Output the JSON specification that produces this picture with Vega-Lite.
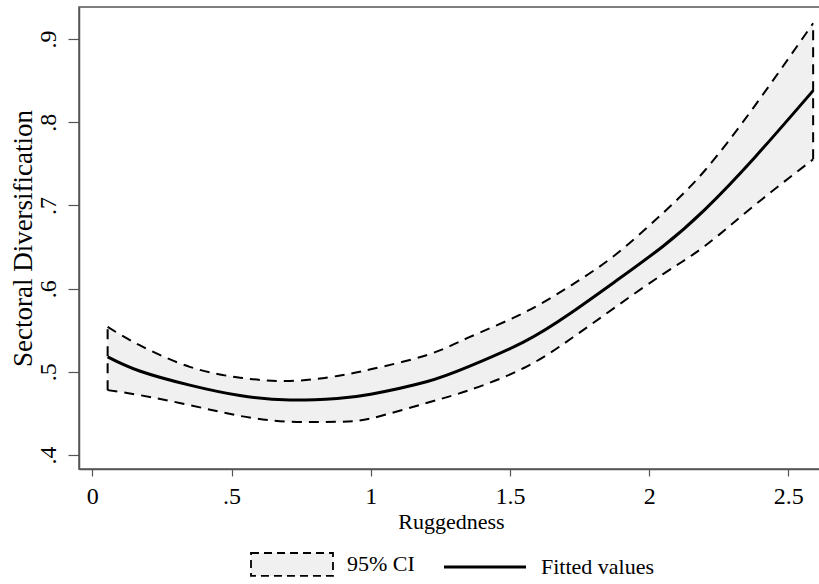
{
  "$schema": "https://vega.github.io/schema/vega-lite/v6.json",
  "width": 745,
  "height": 462,
  "autosize": {"type": "none"},
  "padding": {"left": 79, "top": 7, "right": 0, "bottom": 115},
  "background": "white",
  "config": {
    "font": "Liberation Serif",
    "view": {"stroke": "#555555", "strokeWidth": 1.5},
    "axis": {
      "labelFont": "Liberation Serif",
      "titleFont": "Liberation Serif",
      "labelColor": "black",
      "titleColor": "black",
      "titleFontWeight": "normal",
      "domainColor": "#555555",
      "domainWidth": 1.5,
      "tickColor": "#555555",
      "tickWidth": 1.2,
      "grid": false
    },
    "legend": {
      "labelFont": "Liberation Serif",
      "labelColor": "black"
    }
  },
  "data": {
    "values": [
      {"x": 0.055, "fit": 0.518, "lo": 0.478, "hi": 0.554},
      {"x": 0.17, "fit": 0.501, "lo": 0.472, "hi": 0.532},
      {"x": 0.35, "fit": 0.484, "lo": 0.460, "hi": 0.506},
      {"x": 0.53, "fit": 0.4715, "lo": 0.447, "hi": 0.493},
      {"x": 0.71, "fit": 0.4662, "lo": 0.440, "hi": 0.489},
      {"x": 0.88, "fit": 0.468, "lo": 0.440, "hi": 0.495},
      {"x": 1.0, "fit": 0.473, "lo": 0.444, "hi": 0.503},
      {"x": 1.2, "fit": 0.488, "lo": 0.4625, "hi": 0.520},
      {"x": 1.35, "fit": 0.506, "lo": 0.4775, "hi": 0.541},
      {"x": 1.55, "fit": 0.536, "lo": 0.5046, "hi": 0.571},
      {"x": 1.72, "fit": 0.571, "lo": 0.540, "hi": 0.604},
      {"x": 1.88, "fit": 0.609, "lo": 0.578, "hi": 0.641},
      {"x": 2.05, "fit": 0.651, "lo": 0.6175, "hi": 0.691},
      {"x": 2.2, "fit": 0.695, "lo": 0.6512, "hi": 0.742},
      {"x": 2.38, "fit": 0.758, "lo": 0.7005, "hi": 0.820},
      {"x": 2.589, "fit": 0.838, "lo": 0.7554, "hi": 0.919}
    ]
  },
  "encoding": {
    "x": {
      "field": "x", "type": "quantitative",
      "scale": {"domain": [-0.0478, 2.628], "nice": false, "zero": false},
      "axis": {
        "values": [0, 0.5, 1, 1.5, 2, 2.5],
        "labelExpr": "datum.value > 0 && datum.value < 1 ? replace(format(datum.value, '.1f'), '0.', '.') : format(datum.value, '~g')",
        "labelFontSize": 24,
        "tickSize": 7,
        "labelPadding": 8,
        "labelFlush": false,
        "title": "Ruggedness",
        "titleFontSize": 22,
        "titleX": 372,
        "titleY": 59,
        "titleAlign": "center",
        "titleBaseline": "alphabetic"
      }
    }
  },
  "layer": [
    {
      "mark": {"type": "area", "fill": "#f0f0f0", "interpolate": "natural"},
      "encoding": {
        "y": {
          "field": "lo", "type": "quantitative",
          "title": "Sectoral Diversification",
          "scale": {"domain": [0.3832, 0.9385], "nice": false, "zero": false},
          "axis": {
            "values": [0.4, 0.5, 0.6, 0.7, 0.8, 0.9],
            "labelExpr": "replace(format(datum.value, '.1f'), '0.', '.')",
            "labelFontSize": 24,
            "labelAngle": -90,
            "labelAlign": "center",
            "labelBaseline": "bottom",
            "tickSize": 11,
            "labelPadding": 8,
            "labelFlush": false,
            "titleFontSize": 27,
            "titleAngle": -90,
            "titleX": -48,
            "titleY": 231,
            "titleAlign": "center",
            "titleBaseline": "alphabetic"
          }
        },
        "y2": {"field": "hi"}
      }
    },
    {
      "mark": {"type": "line", "stroke": "black", "strokeWidth": 2, "strokeDash": [10, 7], "interpolate": "natural"},
      "encoding": {
        "y": {"field": "hi", "type": "quantitative", "title": "Sectoral Diversification"}
      }
    },
    {
      "mark": {"type": "line", "stroke": "black", "strokeWidth": 2, "strokeDash": [10, 7], "interpolate": "natural"},
      "encoding": {
        "y": {"field": "lo", "type": "quantitative", "title": "Sectoral Diversification"}
      }
    },
    {
      "transform": [{"filter": "datum.x == 0.055 || datum.x == 2.589"}],
      "mark": {"type": "rule", "stroke": "black", "strokeWidth": 2, "strokeDash": [10, 7]},
      "encoding": {
        "y": {"field": "lo", "type": "quantitative", "title": "Sectoral Diversification"},
        "y2": {"field": "hi"}
      }
    },
    {
      "mark": {"type": "line", "stroke": "black", "strokeWidth": 3, "interpolate": "natural"},
      "encoding": {
        "y": {"field": "fit", "type": "quantitative", "title": "Sectoral Diversification"}
      }
    },
    {
      "data": {
        "values": [
          {"series": "95% CI", "x": 1.0, "y": 0.473},
          {"series": "Fitted values", "x": 1.0, "y": 0.473}
        ]
      },
      "mark": {"type": "point", "filled": true, "fill": "#f0f0f0", "stroke": "black", "opacity": 0},
      "encoding": {
        "y": {"field": "y", "type": "quantitative", "title": "Sectoral Diversification"},
        "shape": {
          "field": "series", "type": "nominal",
          "scale": {"domain": ["95% CI", "Fitted values"], "range": ["M-1,-0.28L1,-0.28L1,0.28L-1,0.28Z", "M-1,0L1,0"]},
          "legend": {
            "title": null,
            "orient": "none",
            "direction": "horizontal",
            "legendX": 171,
            "legendY": 515,
            "padding": 0,
            "symbolSize": 6724,
            "labelFontSize": 22,
            "labelOffset": 13,
            "columnPadding": 22,
            "labelLimit": 300,
            "encode": {
              "symbols": {
                "update": {
                  "stroke": {"value": "black"},
                  "fill": {"value": "#f0f0f0"},
                  "opacity": {"value": 1},
                  "strokeOpacity": {"value": 1},
                  "fillOpacity": {"value": 1}
                }
              }
            }
          }
        },
        "strokeDash": {
          "field": "series", "type": "nominal",
          "scale": {"domain": ["95% CI", "Fitted values"], "range": [[8, 5], [1, 0]]},
          "legend": null
        },
        "strokeWidth": {
          "field": "series", "type": "nominal",
          "scale": {"domain": ["95% CI", "Fitted values"], "range": [1.8, 3.2]},
          "legend": null
        }
      }
    }
  ]
}
